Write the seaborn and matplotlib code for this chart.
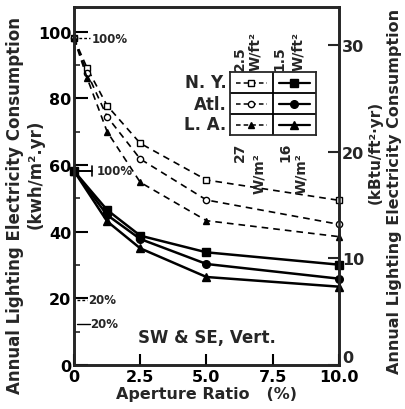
import matplotlib
matplotlib.use("Agg")
import matplotlib.pyplot as plt
import seaborn as sns
import numpy as np

# ---- data ----
x_dashed = [0, 0.5, 1.25, 2.5, 5.0, 10.0]
ny_25 = [98.0, 89.0, 77.8, 66.5, 55.5, 49.4]
atl_25 = [98.0, 87.5, 74.5, 61.8, 49.5, 42.2]
la_25 = [98.0, 86.0, 70.0, 54.8, 43.3, 38.5]

x_solid = [0, 1.25, 2.5, 5.0, 10.0]
ny_15 = [58.2, 46.5, 38.8, 33.8, 30.1]
atl_15 = [58.2, 45.0, 37.8, 30.3, 25.9]
la_15 = [58.2, 43.1, 35.0, 26.4, 23.5]

cities = ["N. Y.", "Atl.", "L. A."]
x_ticks = [0, 2.5, 5.0, 7.5, 10.0]
x_ticklabels = ["0", "2.5", "5.0", "7.5", "10.0"]
y_ticks = [0, 20, 40, 60, 80, 100]
y2_ticks = [0, 10, 20, 30]
KWH_PER_KBTU = 3.2  # scale of the right axis as drawn

sns.set_theme(style="ticks")
plt.rcParams["font.family"] = ["DejaVu Sans"]
plt.rcParams["font.weight"] = "bold"

fig = plt.figure(figsize=(4.06, 4.10), dpi=100)
ax = fig.add_axes([74 / 406, 44 / 410, 265 / 406, 358 / 410])
ax.set_xlim(0, 10)
ax.set_ylim(0, 107.4)

dash = (0, (4, 3))
dashed_series = [(ny_25, "s", "white", 4.5), (atl_25, "o", "white", 4.5), (la_25, "^", "black", 4.5)]
solid_series = [(ny_15, "s", "black", 5.5), (atl_15, "o", "black", 5.5), (la_15, "^", "black", 5.5)]

for ys, mk, fc, ms in dashed_series:
    sns.lineplot(x=x_dashed, y=ys, ax=ax, color="black", linestyle=dash, lw=1.2,
                 marker=mk, markersize=ms, markerfacecolor=fc, markeredgecolor="black",
                 markeredgewidth=1.0, clip_on=False, zorder=3)
for ys, mk, fc, ms in solid_series:
    sns.lineplot(x=x_solid, y=ys, ax=ax, color="black", linestyle="-", lw=1.8,
                 marker=mk, markersize=ms, markerfacecolor=fc, markeredgecolor="black",
                 markeredgewidth=1.0, clip_on=False, zorder=3)

# axes styling
for s in ax.spines.values():
    s.set_linewidth(1.8)
    s.set_color("black")
ax.set_xticks(x_ticks)
ax.set_xticklabels(x_ticklabels)
ax.set_yticks(y_ticks)
ax.set_yticks([10, 30, 50, 70, 90], minor=True)
ax.tick_params(axis="both", which="major", direction="in", length=8, width=1.5,
               labelsize=11.5, colors="black", pad=3)
ax.tick_params(axis="y", which="major", length=10, pad=2)
ax.tick_params(axis="y", which="minor", direction="in", length=4, width=1.2)
for lab in ax.get_xticklabels() + ax.get_yticklabels():
    lab.set_fontweight("bold")
ax.set_xlabel("Aperture Ratio   (%)", fontsize=11.5, fontweight="bold", labelpad=1)
ax.set_ylabel("")

ax2 = ax.twinx()
ax2.set_ylim(0, 107.4 / KWH_PER_KBTU)
ax2.set_yticks(y2_ticks)
ax2.tick_params(axis="y", direction="in", length=8, width=1.5, labelsize=11.5, pad=2)
for lab in ax2.get_yticklabels():
    lab.set_fontweight("bold")
ax2.get_yticklabels()[0].set_va("bottom")
for s in ax2.spines.values():
    s.set_linewidth(1.8)

# percentage annotations
ax.plot([0, 0.6], [98, 98], color="black", lw=1.0, linestyle=(0, (2, 1.5)))
ax.text(0.66, 98, "100%", fontsize=8.5, fontweight="bold", va="center", ha="left")
ax.plot([0, 0.68], [58.2, 58.2], color="black", lw=1.4)
ax.plot([0.68, 0.68], [56.6, 59.8], color="black", lw=1.2)
ax.text(0.85, 58.2, "100%", fontsize=8.5, fontweight="bold", va="center", ha="left")
ax.plot([0.1, 0.5], [19.6, 19.6], color="black", lw=1.0, linestyle=(0, (2, 1.5)))
ax.text(0.55, 19.6, "20%", fontsize=8.5, fontweight="bold", va="center", ha="left")
ax.plot([0.1, 0.6], [12.3, 12.3], color="black", lw=1.0)
ax.text(0.62, 12.3, "20%", fontsize=8.5, fontweight="bold", va="center", ha="left")

ax.text(5.0, 8.3, "SW & SE, Vert.", fontsize=12, fontweight="bold", ha="center", va="center")

# legend table
lg = fig.add_axes([230 / 406, 1 - 136 / 410, 86 / 406, 63 / 410])
lg.set_xlim(0, 2)
lg.set_ylim(0, 3)
lg.set_xticks([])
lg.set_yticks([])
for s in lg.spines.values():
    s.set_linewidth(1.3)
lg.axvline(1, color="black", lw=1.3)
lg.axhline(1, color="black", lw=1.3)
lg.axhline(2, color="black", lw=1.3)
for i, (name, d, s_) in enumerate(zip(cities, dashed_series, solid_series)):
    yc = 2.5 - i
    lg.plot([0.15, 0.85], [yc, yc], color="black", lw=1.1, linestyle=(0, (3, 2)))
    lg.plot([0.5], [yc], marker=d[1], color="black", markerfacecolor=d[2], markersize=4.5, lw=0)
    lg.plot([1.15, 1.85], [yc, yc], color="black", lw=1.6)
    lg.plot([1.5], [yc], marker=s_[1], color="black", markersize=5.5, lw=0)
    lg.text(-0.08, yc, name, ha="right", va="center", fontsize=12, fontweight="bold")

hdr = dict(rotation=90, ha="center", fontsize=10, fontweight="bold")
fig.text(240 / 406, 1 - 71 / 410, "2.5", va="bottom", **hdr)
fig.text(255 / 406, 1 - 71 / 410, "W/ft²", va="bottom", **hdr)
fig.text(279 / 406, 1 - 71 / 410, "1.5", va="bottom", **hdr)
fig.text(298 / 406, 1 - 71 / 410, "W/ft²", va="bottom", **hdr)
fig.text(240 / 406, 1 - 143 / 410, "27", va="top", **hdr)
fig.text(259 / 406, 1 - 153 / 410, "W/m²", va="top", **hdr)
fig.text(285 / 406, 1 - 143 / 410, "16", va="top", **hdr)
fig.text(301 / 406, 1 - 153 / 410, "W/m²", va="top", **hdr)

# axis titles
fig.text(15 / 406, 1 - 205 / 410, "Annual Lighting Electricity Consumption", rotation=90,
         ha="center", va="center", fontsize=12, fontweight="bold")
fig.text(36 / 406, 1 - 174 / 410, "(kwh/m².yr)", rotation=90,
         ha="center", va="center", fontsize=12, fontweight="bold")
fig.text(375 / 406, 1 - 152 / 410, "(kBtu/ft²·yr)", rotation=90,
         ha="center", va="center", fontsize=11, fontweight="bold")
fig.text(395 / 406, 1 - 191 / 410, "Annual Lighting Electricity Consumption", rotation=90,
         ha="center", va="center", fontsize=11.5, fontweight="bold")

fig.savefig("out.png", dpi=100)
